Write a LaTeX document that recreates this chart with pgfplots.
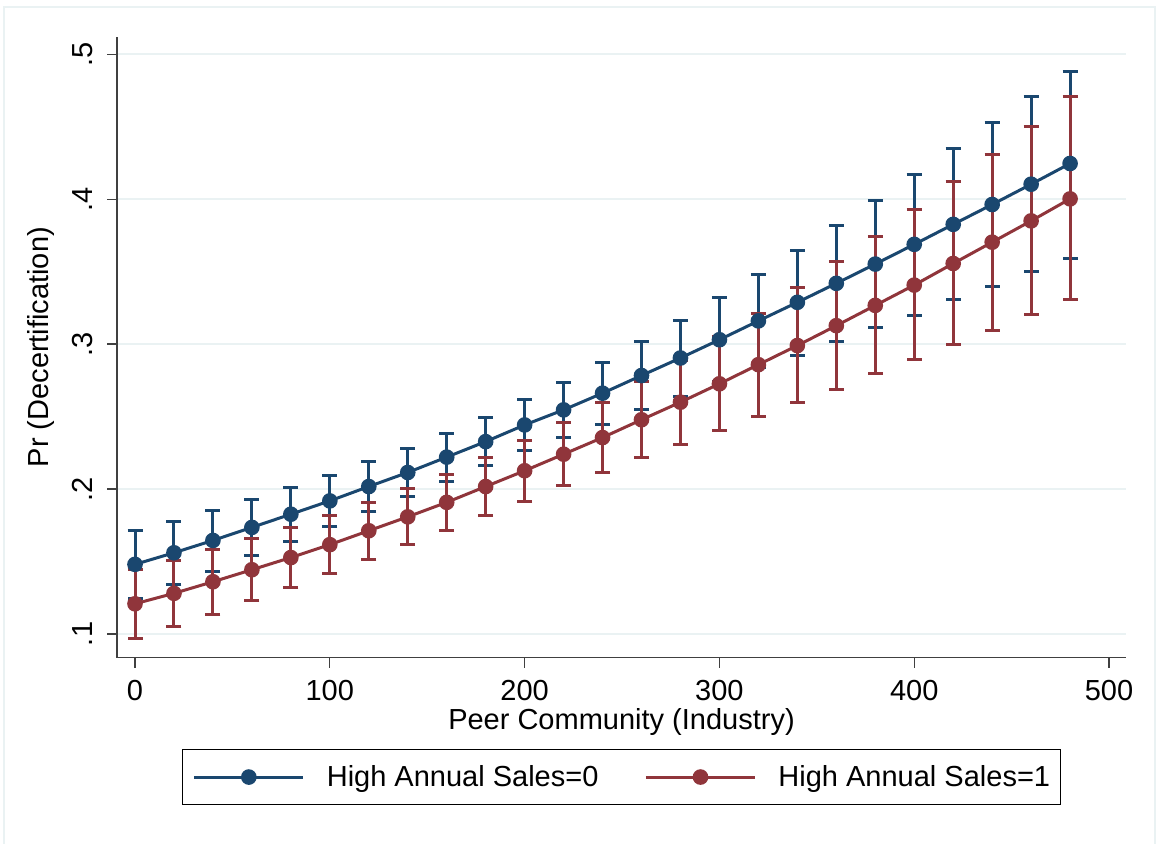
\documentclass[border=0pt]{standalone}
\usepackage{pgfplots}
\pgfplotsset{compat=1.18}
\usepackage{pgfplotstable}
\usepackage{fontspec}
\setmainfont{Liberation Sans}
\definecolor{snavy}{RGB}{26,71,111}
\definecolor{smaroon}{RGB}{144,53,59}
\definecolor{sgrid}{RGB}{234,242,243}

\pgfplotstableread{
x   b      blo    bhi    r      rlo    rhi
0   0.1480 0.1246 0.1713 0.1208 0.0970 0.1446
20  0.1560 0.1343 0.1777 0.1280 0.1051 0.1510
40  0.1645 0.1434 0.1855 0.1360 0.1136 0.1584
60  0.1735 0.1538 0.1931 0.1443 0.1230 0.1657
80  0.1826 0.1639 0.2012 0.1527 0.1322 0.1733
100 0.1918 0.1740 0.2095 0.1616 0.1416 0.1816
120 0.2017 0.1843 0.2191 0.1712 0.1517 0.1908
140 0.2114 0.1947 0.2281 0.1808 0.1614 0.2002
160 0.2220 0.2055 0.2384 0.1908 0.1713 0.2103
180 0.2327 0.2160 0.2494 0.2017 0.1816 0.2219
200 0.2442 0.2264 0.2619 0.2126 0.1916 0.2338
220 0.2546 0.2356 0.2736 0.2240 0.2021 0.2460
240 0.2661 0.2448 0.2874 0.2355 0.2112 0.2598
260 0.2783 0.2550 0.3016 0.2478 0.2216 0.2740
280 0.2904 0.2641 0.3166 0.2599 0.2308 0.2890
300 0.3030 0.2740 0.3322 0.2726 0.2402 0.3050
320 0.3160 0.2840 0.3481 0.2858 0.2503 0.3212
340 0.3288 0.2924 0.3648 0.2990 0.2598 0.3388
360 0.3419 0.3016 0.3820 0.3127 0.2688 0.3568
380 0.3552 0.3113 0.3993 0.3267 0.2795 0.3745
400 0.3688 0.3200 0.4168 0.3407 0.2897 0.3929
420 0.3826 0.3306 0.4347 0.3556 0.2998 0.4124
440 0.3963 0.3395 0.4526 0.3703 0.3092 0.4310
460 0.4103 0.3501 0.4706 0.3850 0.3205 0.4503
480 0.4246 0.3591 0.4884 0.4002 0.3308 0.4710
}\data

\begin{document}
\begin{tikzpicture}
\path[use as bounding box] (0pt,0pt) rectangle (1156pt,843pt);
\draw[sgrid, line width=2pt] (4pt,-5pt) -- (4pt,836pt) -- (1155pt,836pt) -- (1155pt,-5pt);
\begin{axis}[
  at={(117pt,185.3pt)}, anchor=south west,
  scale only axis, width=1009pt, height=621pt,
  xmin=-9.24, xmax=508.7, ymin=0.0836, ymax=0.5121,
  axis x line*=bottom, axis y line*=left,
  axis line style={line width=1.3pt, black!75},
  xtick={0,100,200,300,400,500}, xticklabels={0,100,200,300,400,500},
  ytick={0.1,0.2,0.3,0.4,0.5}, yticklabels={.1,.2,.3,.4,.5},
  tick align=outside, major tick length=10pt,
  tick style={line width=1.3pt, black!75},
  ymajorgrids, grid style={sgrid, line width=2.5pt},
  font=\fontsize{29}{34}\selectfont,
  xticklabel style={yshift=-9pt},
  yticklabel style={xshift=-11pt, rotate=90, anchor=south},
  xlabel={Peer Community (Industry)}, ylabel={Pr (Decertification)},
  xlabel style={yshift=-1pt},
  ylabel style={yshift=11pt},
  legend columns=2,
  legend style={at={(0.5,0)}, anchor=north, yshift=-91pt, draw=black, line width=1.2pt,
    font=\fontsize{29}{34}\selectfont,
    inner xsep=10pt, inner ysep=16.5pt,
    nodes={inner sep=0pt},
    /tikz/every odd column/.append style={column sep=22pt},
    /tikz/every even column/.append style={column sep=46pt}},
  legend image code/.code={\draw[mark repeat=2, mark phase=2, #1] plot coordinates {(0pt,0pt) (54.5pt,0pt) (109pt,0pt)};},
]
\addplot[only marks, mark=none, forget plot,
  error bars/.cd, y dir=both, y explicit,
  error bar style={draw=snavy, line width=3pt},
  error mark options={rotate=90, draw=snavy, line width=3pt, mark size=7.5pt}]
  table[x=x, y=b, y error plus expr=\thisrow{bhi}-\thisrow{b}, y error minus expr=\thisrow{b}-\thisrow{blo}] {\data};
\addplot[only marks, mark=none, forget plot,
  error bars/.cd, y dir=both, y explicit,
  error bar style={draw=smaroon, line width=3pt},
  error mark options={rotate=90, draw=smaroon, line width=3pt, mark size=7.5pt}]
  table[x=x, y=r, y error plus expr=\thisrow{rhi}-\thisrow{r}, y error minus expr=\thisrow{r}-\thisrow{rlo}] {\data};
\addplot[snavy, line width=3pt, mark=*, mark size=6.3pt, mark options={fill=snavy, draw=snavy}]
  table[x=x, y=b] {\data};
\addlegendentry{High Annual Sales=0}
\addplot[smaroon, line width=3pt, mark=*, mark size=6.3pt, mark options={fill=smaroon, draw=smaroon}]
  table[x=x, y=r] {\data};
\addlegendentry{High Annual Sales=1\hspace{9pt}}
\end{axis}
\end{tikzpicture}
\end{document}
